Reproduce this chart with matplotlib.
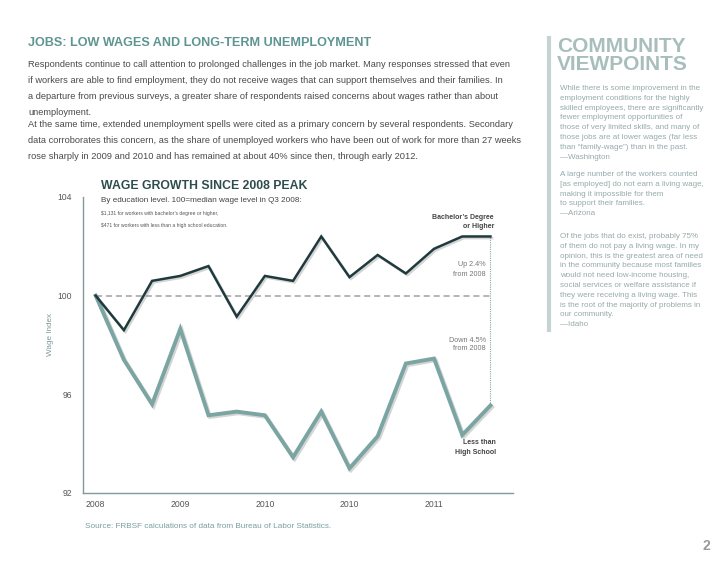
import matplotlib
matplotlib.use("Agg")
import matplotlib.pyplot as plt
import matplotlib.patheffects as pe
import numpy as np

# wage index, Q3 2008 .. Q1 2012 (100 = Q3 2008)
bachelor = [100.0, 98.6, 100.6, 100.8, 101.2, 99.15, 100.8, 100.6, 102.4,
            100.75, 101.65, 100.9, 101.9, 102.4, 102.4]
less_hs = [100.0, 97.4, 95.6, 98.65, 95.15, 95.3, 95.15, 93.45, 95.3,
           93.0, 94.3, 97.25, 97.45, 94.35, 95.55]
tick_pos = [0, 3, 6, 9, 12]
tick_labels = ["2008", "2009", "2010", "2010", "2011"]
y_ticks = [92, 96, 100, 104]

plt.rcParams['font.family'] = ['Liberation Sans', 'DejaVu Sans']

fig = plt.figure(figsize=(7.28, 5.63), dpi=100)
W, H = 728, 563

def ft(x, y, s, **kw):
    # place text by pixel position, top-left origin
    fig.text(x / W, 1 - y / H, s, **kw)

teal = "#5d9593"
body = "#4a4a4a"
quote_col = "#96aaaa"

# page header and body text
ft(28, 43, "JOBS: LOW WAGES AND LONG-TERM UNEMPLOYMENT", color=teal,
   fontsize=9.1, fontweight="bold", va="center")
para1 = ["Respondents continue to call attention to prolonged challenges in the job market. Many responses stressed that even",
         "if workers are able to find employment, they do not receive wages that can support themselves and their families. In",
         "a departure from previous surveys, a greater share of respondents raised concerns about wages rather than about",
         "unemployment."]
para2 = ["At the same time, extended unemployment spells were cited as a primary concern by several respondents. Secondary",
         "data corroborates this concern, as the share of unemployed workers who have been out of work for more than 27 weeks",
         "rose sharply in 2009 and 2010 and has remained at about 40% since then, through early 2012."]
for i, line in enumerate(para1):
    ft(28, 67 + i * 16, line, color=body, fontsize=6.68, va="baseline")
for i, line in enumerate(para2):
    ft(28, 127 + i * 16, line, color=body, fontsize=6.68, va="baseline")

# right column
fig.add_artist(plt.Line2D([549 / W, 549 / W], [1 - 38 / H, 1 - 330 / H],
                          color="#c5d3d3", lw=3, transform=fig.transFigure))
ft(557, 46, "COMMUNITY", color="#a8bebd", fontsize=15, fontweight="heavy",
   va="center")
ft(557, 65, "VIEWPOINTS", color="#a8bebd", fontsize=15, fontweight="heavy",
   va="center")
quotes = [
    ["While there is some improvement in the",
     "employment conditions for the highly",
     "skilled employees, there are significantly",
     "fewer employment opportunities of",
     "those of very limited skills, and many of",
     "those jobs are at lower wages (far less",
     "than \u201cfamily-wage\u201d) than in the past.",
     "\u2014Washington"],
    ["A large number of the workers counted",
     "[as employed] do not earn a living wage,",
     "making it impossible for them",
     "to support their families.",
     "\u2014Arizona"],
    ["Of the jobs that do exist, probably 75%",
     "of them do not pay a living wage. In my",
     "opinion, this is the greatest area of need",
     "in the community because most families",
     "would not need low-income housing,",
     "social services or welfare assistance if",
     "they were receiving a living wage. This",
     "is the root of the majority of problems in",
     "our community.",
     "\u2014Idaho"]]
starts = [88, 174, 236]
for q, y0 in zip(quotes, starts):
    for i, line in enumerate(q):
        ft(560, y0 + 2 + i * 9.8, line, color=quote_col, fontsize=5.8, va="baseline")

# chart
ax = fig.add_axes([83 / W, 1 - 493 / H, (513 - 83) / W, (493 - 197) / H])
x = np.arange(len(bachelor))
shadow = [pe.SimpleLineShadow(offset=(1.2, -1.2), shadow_color="#888888", alpha=0.35), pe.Normal()]
ax.plot(x, [100] * len(x), color="#a0a0a0", lw=1.1, ls=(0, (4, 2.5)), zorder=1)
ax.plot([x[-1], x[-1]], [less_hs[-1], bachelor[-1]], color="#8aa8a8", lw=0.8,
        ls=(0, (1, 1)), zorder=1)
ax.plot(x, less_hs, color="#7aa5a3", lw=2.8, solid_joinstyle="miter",
        path_effects=shadow, zorder=3)
ax.plot(x, bachelor, color="#1e3a3c", lw=1.8, solid_joinstyle="miter",
        path_effects=shadow, zorder=4)

ax.set_xlim(-0.45, 14.8)
ax.set_ylim(92, 104)
ax.set_yticks(y_ticks)
ax.set_yticklabels([str(v) for v in y_ticks])
ax.set_xticks(tick_pos)
ax.set_xticklabels(tick_labels)
ax.tick_params(length=0, labelsize=6.2, labelcolor="#555555")
ax.tick_params(axis="x", pad=5)
ax.tick_params(axis="y", pad=8)
for s in ["top", "right"]:
    ax.spines[s].set_visible(False)
for s in ["left", "bottom"]:
    ax.spines[s].set_color("#7f9a9a")
    ax.spines[s].set_linewidth(1)
ft(51, 334, "Wage Index", color="#7f9a9a", fontsize=5.9, rotation=90,
   ha="center", va="center")

# chart titles and annotations
ft(101, 186, "WAGE GROWTH SINCE 2008 PEAK", color="#2f4d4d", fontsize=8.8,
   fontweight="bold", va="center")
ft(101, 200, "By education level. 100=median wage level in Q3 2008:", color="#444444",
   fontsize=5.85, va="center")
ft(101, 213, "$1,131 for workers with bachelor\u2019s degree or higher,", color="#555555",
   fontsize=3.6, va="center")
ft(101, 226, "$471 for workers with less than a high school education.", color="#555555",
   fontsize=3.6, va="center")

ft(494, 217, "Bachelor\u2019s Degree", color="#444444", fontsize=5.0, fontweight="bold",
   ha="right", va="center")
ft(494, 227, "or Higher", color="#444444", fontsize=5.0, fontweight="bold",
   ha="right", va="center")
ft(486, 265, "Up 2.4%", color="#777777", fontsize=5.2, ha="right", va="center")
ft(486, 274, "from 2008", color="#777777", fontsize=5.2, ha="right", va="center")
ft(486, 340, "Down 4.5%", color="#777777", fontsize=5.2, ha="right", va="center")
ft(486, 349, "from 2008", color="#777777", fontsize=5.2, ha="right", va="center")
ft(496, 443, "Less than", color="#444444", fontsize=5.0, fontweight="bold",
   ha="right", va="center")
ft(496, 453, "High School", color="#444444", fontsize=5.0, fontweight="bold",
   ha="right", va="center")

ft(85, 526, "Source: FRBSF calculations of data from Bureau of Labor Statistics.",
   color="#7a9e9e", fontsize=5.9, va="center")
ft(706, 546, "2", color="#9a9a9a", fontsize=10, fontweight="bold", ha="center", va="center")

fig.savefig("out.png", dpi=100, facecolor="white")
